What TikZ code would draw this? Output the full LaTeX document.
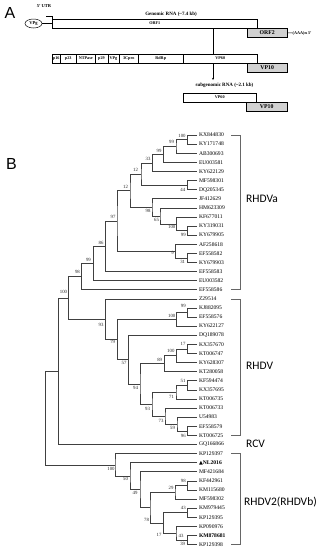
\documentclass[tikz,border=0pt]{standalone}
\usepackage{fontspec}
\setmainfont{Liberation Serif}
\newfontfamily\calfont{Carlito}
\newfontfamily\arialfont{Liberation Sans}
\newfontfamily\djvfont{DejaVu Sans}
\usetikzlibrary{calc,shapes.geometric,arrows.meta}
\newcommand\jnode[4]{%
  \path ($(#3)!0.5!(#4)$) coordinate (m#1);
  \coordinate (#1) at (#2,0 |- m#1);
  \draw[tree] (#3) -| (#1) |- (#4);}
\newcommand\inode[7]{%
  \jnode{#1}{#2}{#3}{#4}%
  \node[bs] (lb#1) at (#6,#7) {#5};}
\begin{document}
\begin{tikzpicture}[x=1pt,y=-1pt,
  tree/.style={line width=0.45pt, draw=black!75},
  bs/.style={font=\fontsize{4.8}{5}\selectfont, inner sep=0pt, text=black!85},
  leaf/.style={font=\fontsize{5.6}{6}\selectfont, anchor=west, inner sep=0pt},
  clade/.style={font=\calfont\fontsize{11.5}{12}\selectfont, anchor=west, inner sep=0pt},
  brk/.style={line width=0.6pt, draw=black!60},
  panel/.style={font=\arialfont\fontsize{16}{16}\selectfont, inner sep=0pt},
  seg/.style={draw, line width=0.5pt, minimum height=9pt, inner sep=0pt, anchor=west, font=\bfseries\fontsize{4.2}{5}\selectfont},
  gseg/.style={seg, fill=black!18, font=\bfseries\fontsize{5.8}{6}\selectfont},
  atext/.style={inner sep=0pt, font=\bfseries\fontsize{5}{6}\selectfont}]
\useasboundingbox (0,0) rectangle (324,550);
% ---------------- panel A
\node[panel] (pA) at (10,13) {A};
\node[atext] (grna) at (171,14) {Genomic RNA (\textasciitilde7.4 kb)};
\node[atext, font=\bfseries\fontsize{4.5}{5}\selectfont] (utr) at (44,6) {5' UTR};
\node[draw, ellipse, line width=0.5pt, minimum width=17pt, minimum height=9pt, inner sep=0pt, font=\bfseries\fontsize{4.5}{5}\selectfont] (vpg) at (33.5,23.5) {VPg};
\node[seg, minimum width=205pt] (orf1) at (52,23.5) {ORF1};
\node[gseg, minimum width=40pt] (orf2) at (247,32.8) {ORF2};
\node[atext, anchor=west, font=\bfseries\fontsize{4.2}{5}\selectfont] (polyA) at (292.5,33) {(AAA)n 3'};
\coordinate (utrc) at (46,16);
\draw[line width=0.5pt] (utrc) -| (orf1.north west);
\draw[line width=0.5pt] (vpg.east) -- (orf1.west);
\draw[line width=0.5pt] (orf2.east) -- (polyA.west);
\node[seg, minimum width=8pt] (p16) at (52,58.5) {p16};
\node[seg, minimum width=16pt] (p23) at (60,58.5) {p23};
\node[seg, minimum width=19pt] (ntp) at (76,58.5) {NTPase};
\node[seg, minimum width=12.5pt] (p29) at (95,58.5) {p29};
\node[seg, minimum width=11.5pt] (vpg2) at (107.5,58.5) {VPg};
\node[seg, minimum width=19pt] (c3) at (119,58.5) {3Cpro};
\node[seg, minimum width=45pt] (rdrp) at (138,58.5) {RdRp};
\node[seg, minimum width=74pt] (vp60p) at (183,58.5) {VP60};
\node[gseg, minimum width=40pt] (vp10p) at (247,67.5) {VP10};
\coordinate (sp) at (213,28);
\draw[line width=0.5pt] (orf1.south -| sp) -- (vp60p.north -| sp);
\coordinate (arr) at (213,80);
\draw[line width=0.5pt, -{Stealth[length=2.2pt,width=2pt]}] (vp60p.south -| sp) -- (arr);
\node[atext] (sg) at (224.5,85.5) {subgenomic RNA (\textasciitilde2.1 kb)};
\node[seg, minimum width=73pt] (vp60s) at (183,97.5) {VP60};
\node[gseg, minimum width=41pt] (vp10s) at (246,106.5) {VP10};
% ---------------- panel B
\node[panel] (pB) at (11.5,164) {B};
\foreach \lab [count=\i] in {KX844830, KY171748, AB300693, EU003581, KY622129, MF598301, DQ205345, JF412629, HM623309, KF677011, KY319031, KY679905, AF258618, EF558582, KY679903, EF558583, EU003582, EF558586, Z29514, KJ882095, EF558576, KY622127, DQ189078, KX357670, KT006747, KY628307, KT280058, KF594474, KX357695, KT006735, KT006733, U54983, EF558579, KT006725, GQ166866, KP129397, {{\djvfont\fontsize{5}{6}\selectfont ▲}\textbf{NL2016}}, MF421684, KF442961, KM115680, MF598302, KM979445, KP129395, KP090976, {\textbf{KM878681}}, KP129398} {
  \coordinate (t\i) at (197,{135+9.1*(\i-1)});
  \node[leaf] (l\i) at (198.8,{135+9.1*(\i-1)}) {\lab};
}
% RHDVa
\inode{a100}{187.7}{t1}{t2}{100}{182}{135.5}
\inode{a99a}{176}{a100}{t3}{99}{171.5}{141.8}
\inode{a99b}{163.5}{a99a}{t4}{99}{159}{150.5}
\inode{a33}{152.5}{a99b}{t5}{33}{148}{158.8}
\inode{a44}{187.7}{t6}{t7}{44}{182.8}{189.7}
\inode{a12a}{141}{a33}{a44}{12}{135.5}{170}
\inode{a99c}{187.5}{t11}{t12}{99}{183.3}{234.5}
\inode{aX}{176.5}{t10}{a99c}{100}{171.7}{227}
\inode{a65}{160}{t9}{aX}{65}{156.5}{219.5}
\inode{a98}{152}{t8}{a65}{98}{148}{210.5}
\inode{a12b}{130}{a12a}{a98}{12}{125.5}{187.3}
\inode{a31}{187.5}{t14}{t15}{31}{182.7}{262}
\inode{a9}{175.5}{t13}{a31}{9}{172.5}{253.3}
\inode{a97}{117}{a12b}{a9}{97}{113}{217.3}
\inode{a86}{105.5}{a97}{t16}{86}{101}{242.5}
\inode{a99d}{93.3}{a86}{t17}{99}{88.5}{260}
\inode{a98c}{81.7}{a99d}{t18}{98}{77.5}{272.3}
% RHDV
\inode{b99}{187.7}{t20}{t21}{99}{183.3}{305.7}
\inode{b100}{176.7}{b99}{t22}{100}{171.7}{315.7}
\inode{b17}{187.7}{t24}{t25}{17}{183}{344.3}
\inode{b100c}{176.5}{b17}{t26}{100}{170.8}{351.3}
\inode{b89}{164.3}{b100c}{t27}{89}{159.7}{359.8}
\inode{b51}{187.7}{t28}{t29}{51}{183}{380.8}
\inode{b71}{176}{b51}{t30}{71}{171.5}{396.8}
\inode{b96}{187.7}{t33}{t34}{96}{183.3}{435.6}
\inode{b59}{177}{t32}{b96}{59}{172.5}{428}
\inode{b73}{165}{t31}{b59}{73}{161}{420.5}
\inode{b93}{152}{b71}{b73}{93}{147.5}{408.5}
\inode{b94}{140}{b89}{b93}{94}{135.5}{387.5}
\inode{b57}{128.3}{t23}{b94}{57}{124}{363}
\inode{b79}{117.7}{b100}{b57}{79}{112.7}{342.3}
\inode{b93a}{105.5}{t19}{b79}{93}{101}{324.5}
\inode{r100}{68.5}{a98c}{b93a}{100}{63.5}{292}
\jnode{rU}{58.3}{r100}{t35}
% RHDV2
\inode{c98}{187.7}{t39}{t40}{98}{183.3}{481}
\inode{c29}{175}{c98}{t41}{29}{171}{488.3}
\inode{c43a}{187.7}{t42}{t43}{43}{183.3}{508.3}
\inode{c39}{187.7}{t45}{t46}{39}{182.7}{543.5}
\inode{c43b}{176}{t44}{c39}{43}{181}{536}
\inode{c17}{163.3}{c43a}{c43b}{17}{159}{535}
\inode{c78}{150}{c29}{c17}{78}{146.5}{520}
\inode{c49}{140}{t38}{c78}{49}{135}{493.3}
\inode{c50}{130}{t37}{c49}{50}{125.5}{479.3}
\inode{c100}{115}{t36}{c50}{100}{111}{468.7}
\jnode{root}{45.7}{rU}{c100}
% clade brackets
\draw[brk] (231,0 |- t1) -| (240,0 |- t18) -- (231,0 |- t18);
\draw[brk] (231,0 |- t19) -| (240,0 |- t34) -- (231,0 |- t34);
\draw[brk] (231,0 |- t36) -| (240,0 |- t46) -- (231,0 |- t46);
\node[clade] (cA) at (246,199) {RHDVa};
\node[clade] (cB) at (246,366) {RHDV};
\node[clade] (cC) at (246,444) {RCV};
\node[clade] (cD) at (244,501.7) {RHDV2(RHDVb)};
\end{tikzpicture}
\end{document}
